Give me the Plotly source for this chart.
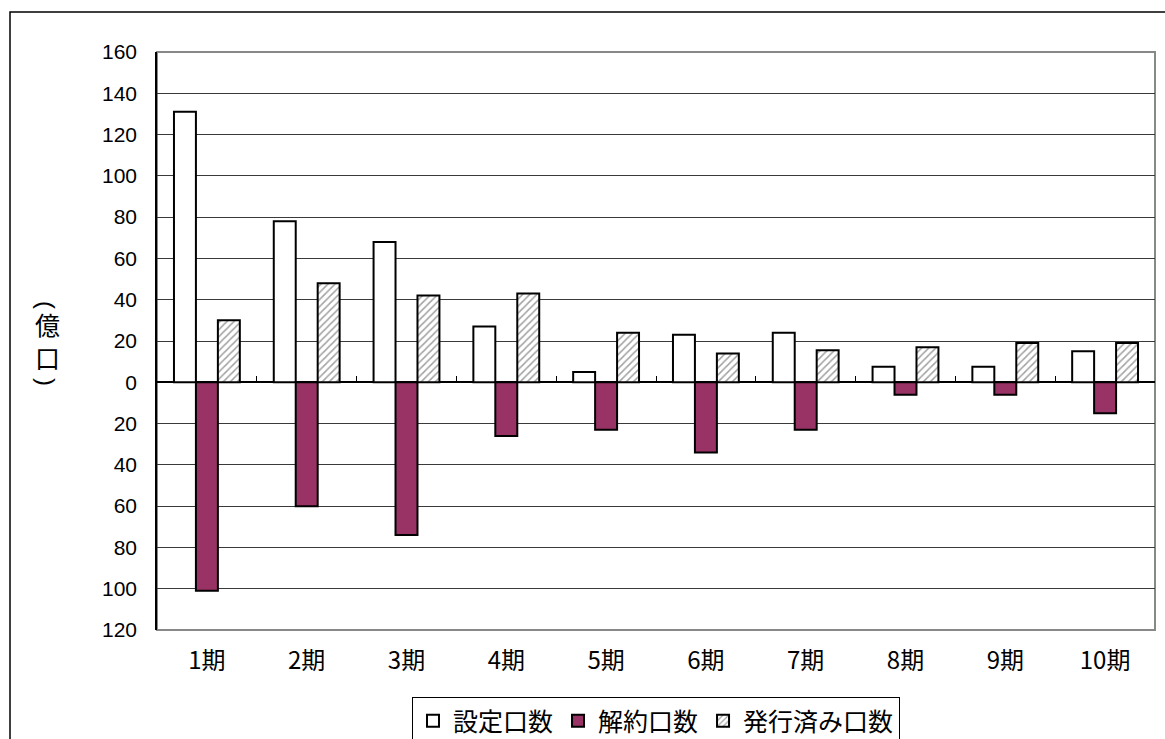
import plotly.graph_objects as go

categories = ["1期", "2期", "3期", "4期", "5期", "6期", "7期", "8期", "9期", "10期"]
settei = [131, 78, 68, 27, 5, 23, 24, 7.5, 7.5, 15]
kaiyaku = [-101, -60, -74, -26, -23, -34, -23, -6, -6, -15]
hakko = [30, 48, 42, 43, 24, 14, 15.5, 17, 19, 19]
y_ticks = [160, 140, 120, 100, 80, 60, 40, 20, 0, -20, -40, -60, -80, -100, -120]
y_ticktext = [str(abs(v)) for v in y_ticks]

FONT = "Liberation Sans, Arial, sans-serif"
JFONT = "Noto Sans CJK JP, sans-serif"

fig = go.Figure()
fig.add_trace(go.Bar(x=categories, y=settei, name="設定口数",
                     marker=dict(color="white", line=dict(color="black", width=2))))
fig.add_trace(go.Bar(x=categories, y=kaiyaku, name="解約口数",
                     marker=dict(color="#993366", line=dict(color="black", width=2))))
fig.add_trace(go.Bar(x=categories, y=hakko, name="発行済み口数",
                     marker=dict(color="white", line=dict(color="black", width=2),
                                 pattern=dict(shape="/", fgcolor="#444444", bgcolor="white",
                                              size=5, solidity=0.3))))
# invisible trace for the zero-line tick axis
fig.add_trace(go.Scatter(x=categories, y=[0]*len(categories), xaxis="x2", mode="none",
                         showlegend=False, hoverinfo="skip"))

def py(pix):
    return (630 - pix) / 578

def px(pix):
    return (pix - 157) / 998

fig.update_layout(
    width=1165, height=739,
    margin=dict(l=157, r=10, t=52, b=109, autoexpand=False),
    paper_bgcolor="white", plot_bgcolor="white",
    barmode="group", bargap=0.34, bargroupgap=0,
    font=dict(family=FONT, size=20, color="black"),
    xaxis=dict(type="category", categoryarray=categories, range=[-0.5, 9.5],
               showgrid=False, showline=False, ticks="", zeroline=False,
               tickfont=dict(family=JFONT, size=24), ticklabelstandoff=14),
    xaxis2=dict(type="category", categoryarray=categories, overlaying="x", anchor="free",
                position=120/280, range=[-0.5, 9.5], showgrid=False, showline=False,
                ticks="inside", tickson="boundaries", ticklen=6, tickcolor="black",
                tickwidth=1, showticklabels=False, zeroline=False),
    yaxis=dict(range=[-120, 160], tickvals=y_ticks, ticktext=y_ticktext,
               showgrid=True, gridcolor="#3a3a3a", gridwidth=1,
               zeroline=True, zerolinecolor="black", zerolinewidth=1.5,
               showline=True, linecolor="black", linewidth=1.5, ticks="",
               tickfont=dict(family=FONT, size=21), ticklabelstandoff=14),
    legend=dict(orientation="h", x=0.50, xanchor="center", y=py(697), yanchor="top",
                bordercolor="black", borderwidth=1, bgcolor="white",
                font=dict(family=JFONT, size=25), itemwidth=30,
                traceorder="normal"),
    shapes=[
        dict(type="rect", xref="paper", yref="paper", x0=0, x1=1, y0=0, y1=1,
             line=dict(color="#888888", width=2), layer="below"),
        dict(type="rect", xref="paper", yref="paper",
             x0=px(10), x1=px(1175), y0=py(750), y1=py(12),
             line=dict(color="black", width=1.5), layer="below"),
    ],
    annotations=[
        dict(text="(", xref="paper", yref="paper", x=px(47), y=py(305), textangle=90,
             xanchor="center", yanchor="middle", showarrow=False,
             font=dict(family=FONT, size=24)),
        dict(text="億", xref="paper", yref="paper", x=px(47), y=py(324),
             xanchor="center", yanchor="middle", showarrow=False,
             font=dict(family=JFONT, size=25)),
        dict(text="口", xref="paper", yref="paper", x=px(47), y=py(357),
             xanchor="center", yanchor="middle", showarrow=False,
             font=dict(family=JFONT, size=25)),
        dict(text=")", xref="paper", yref="paper", x=px(47), y=py(382), textangle=90,
             xanchor="center", yanchor="middle", showarrow=False,
             font=dict(family=FONT, size=24)),
    ],
)

fig.write_html("out.html", config={"displayModeBar": False},
               post_script="document.body.style.margin='0';document.body.style.overflow='hidden';")
